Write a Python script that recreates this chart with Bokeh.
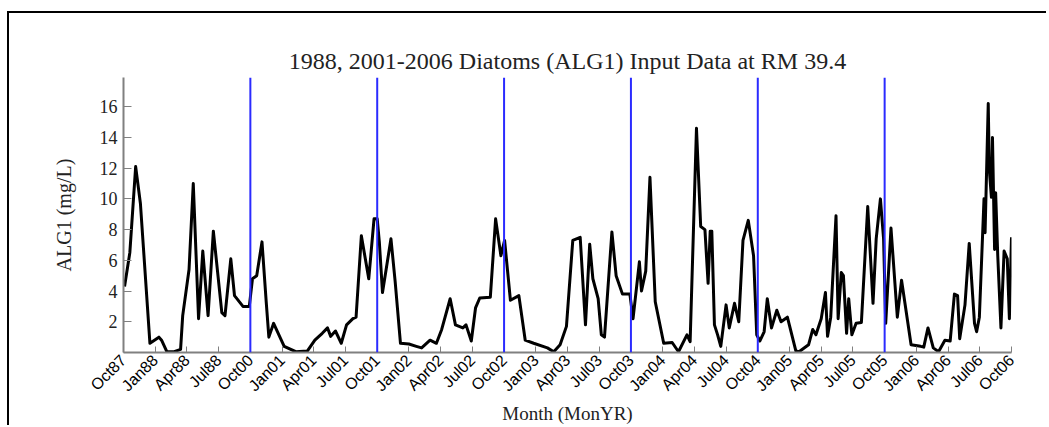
import numpy as np
from bokeh.plotting import figure
from bokeh.models import FixedTicker, Span, Range1d
from bokeh.embed import file_html
from bokeh.resources import INLINE

# Compressed time axis: months since Oct 1987, with the Oct88-Sep00 gap removed
tick_labels = ["Oct87", "Jan88", "Apr88", "Jul88", "Oct00", "Jan01", "Apr01", "Jul01",
               "Oct01", "Jan02", "Apr02", "Jul02", "Oct02", "Jan03", "Apr03", "Jul03",
               "Oct03", "Jan04", "Apr04", "Jul04", "Oct04", "Jan05", "Apr05", "Jul05",
               "Oct05", "Jan06", "Apr06", "Jul06", "Oct06"]
tick_months = [0, 3, 6, 9, 12, 15, 18, 21, 24, 27, 30, 33, 36, 39, 42, 45, 48,
               51, 54, 57, 60, 63, 66, 69, 72, 75, 78, 81, 84]
water_year_starts = [12, 24, 36, 48, 60, 72]
y_ticks = [2, 4, 6, 8, 10, 12, 14, 16]

month_pos = [0.1, 0.6, 1.15, 1.6, 2.5, 3.35, 3.6, 4.1, 4.8, 5.4, 5.6, 6.2, 6.6, 7.1, 7.5,
             8.0, 8.5, 9.3, 9.6, 10.15, 10.5, 11.3, 11.9,
             12.2, 12.6, 13.1, 13.5, 13.75, 14.2, 15.2, 16.3, 17.4, 18.1, 18.8, 19.3, 19.6,
             20.05, 20.6, 21.1, 21.7, 22.0, 22.5, 23.2, 23.7, 24.0, 24.2, 24.5, 25.3, 25.7,
             26.2, 27.0, 27.7, 28.2, 29.0, 29.6, 30.1, 30.9, 31.4, 32.1, 32.4, 32.9, 33.3,
             33.7, 34.7, 35.2, 35.7, 36.05, 36.6, 37.4, 38.0, 38.8, 40.1, 40.7, 41.3, 41.9,
             42.5, 43.2, 43.7, 44.1, 44.4, 44.9, 45.2, 45.5, 46.2, 46.6, 47.2, 47.9, 48.2,
             48.8, 49.0, 49.4, 49.8, 50.3, 51.1, 51.9, 52.5, 53.3, 53.6, 54.2, 54.6, 55.0,
             55.3, 55.5, 55.65, 55.9, 56.2, 56.5, 57.0, 57.3, 57.8, 58.2, 58.6, 59.1, 59.6,
             59.9, 60.2, 60.6, 60.9, 61.3, 61.8, 62.2, 62.8, 63.6, 63.9, 64.8, 65.2, 65.5,
             66.0, 66.4, 66.6, 66.9, 67.4, 67.6, 67.9, 68.1, 68.4, 68.6, 68.9, 69.3, 69.8,
             70.4, 70.9, 71.2, 71.6, 71.9, 72.1, 72.6, 73.2, 73.6, 74.5, 75.4, 75.7, 76.1,
             76.6, 77.1, 77.7, 78.2, 78.6, 78.9, 79.1, 79.6, 80.0, 80.5, 80.7, 80.96, 81.4,
             81.5, 81.8, 81.9, 82.1, 82.2, 82.4, 82.5, 82.7, 83.0, 83.3, 83.6, 83.8, 84.0]
alg1 = [4.3, 6.5, 12.1, 9.7, 0.6, 1.0, 0.8, 0.05, 0.05, 0.2, 2.4, 5.4, 11.0, 2.2, 6.6,
        2.4, 7.9, 2.6, 2.4, 6.1, 3.7, 3.0, 3.0,
        4.8, 5.0, 7.2, 3.3, 1.0, 1.9, 0.4, 0.05, 0.1, 0.8, 1.25, 1.6, 1.05,
        1.4, 0.6, 1.8, 2.2, 2.3, 7.6, 4.8, 8.7, 8.7, 7.2, 3.9, 7.4, 4.6,
        0.6, 0.55, 0.4, 0.3, 0.8, 0.6, 1.5, 3.5, 1.8, 1.6, 1.8, 0.75, 2.9,
        3.55, 3.6, 8.7, 6.3, 7.3, 3.4, 3.7, 0.8, 0.6, 0.3, 0.05, 0.5, 1.7,
        7.3, 7.5, 1.8, 7.05, 4.8, 3.5, 1.15, 1.0, 7.85, 5.0, 3.8, 3.8, 2.2,
        5.9, 4.0, 5.3, 11.4, 3.3, 0.6, 0.65, 0.05, 1.15, 0.7, 14.6, 8.2, 8.0,
        4.5, 7.9, 7.9, 1.8, 1.15, 0.4, 3.1, 1.6, 3.2, 2.0, 7.3, 8.6, 6.3,
        1.15, 0.75, 1.35, 3.5, 1.6, 2.75, 2.0, 2.3, 0.1, 0.05, 0.5, 1.5, 1.15,
        2.2, 3.9, 1.05, 2.3, 8.9, 2.2, 5.2, 5.0, 1.25, 3.5, 1.15, 1.9, 1.95,
        9.5, 3.2, 7.4, 10.0, 7.4, 1.9, 8.1, 2.3, 4.7, 0.5, 0.4, 0.35, 1.6,
        0.3, 0.05, 0.8, 0.75, 3.8, 3.7, 0.9, 3.1, 7.1, 1.9, 1.35, 2.3, 10.0,
        7.8, 16.2, 11.9, 10.1, 14.0, 6.7, 10.4, 6.3, 1.6, 6.6, 6.1, 2.2, 7.5]

W, H = 1039, 414
ML, MR, MT, MB = 114, 37, 64, 73

p = figure(width=W, height=H,
           x_range=Range1d(0, 84), y_range=Range1d(0, 17.9),
           output_backend="svg", toolbar_location=None,
           title="1988, 2001-2006 Diatoms (ALG1) Input Data at RM 39.4",
           min_border_left=ML, min_border_right=MR,
           min_border_top=MT, min_border_bottom=MB,
           styles={"border-left": "2px solid black", "border-top": "2px solid black",
                   "margin-top": "11px", "margin-left": "7px"})

p.title.align = "center"
p.title.text_font = "Liberation Serif"
p.title.text_font_size = "24px"
p.title.text_font_style = "normal"
p.title.text_color = "#222222"
p.title.standoff = 7

p.grid.visible = False
p.outline_line_color = None
p.background_fill_color = "white"
p.border_fill_color = "white"

xa = p.xaxis[0]
xa.ticker = FixedTicker(ticks=tick_months)
xa.major_label_overrides = {m: lab for m, lab in zip(tick_months, tick_labels)}
xa.major_label_orientation = np.pi / 4
xa.major_label_text_font = "Liberation Sans"
xa.major_label_text_font_size = "16px"
xa.major_label_text_color = "black"
xa.major_label_standoff = 5
xa.major_tick_in = 6
xa.major_tick_out = 0
xa.minor_tick_line_color = None
xa.axis_line_color = "#808080"
xa.major_tick_line_color = "#808080"
xa.axis_line_width = 2
xa.axis_label = "Month (MonYR)"
xa.axis_label_text_font = "Liberation Serif"
xa.axis_label_text_font_size = "19px"
xa.axis_label_text_font_style = "normal"
xa.axis_label_text_color = "#222222"
xa.axis_label_standoff = 0

ya = p.yaxis[0]
ya.ticker = FixedTicker(ticks=y_ticks)
ya.major_label_text_font = "Liberation Serif"
ya.major_label_text_font_size = "18px"
ya.major_label_text_color = "#222222"
ya.major_label_standoff = 6
ya.major_tick_in = 8
ya.major_tick_out = 0
ya.minor_tick_line_color = None
ya.axis_line_color = "#808080"
ya.major_tick_line_color = "#808080"
ya.axis_line_width = 2
ya.axis_label = "ALG1 (mg/L)"
ya.axis_label_text_font = "Liberation Serif"
ya.axis_label_text_font_size = "20px"
ya.axis_label_text_font_style = "normal"
ya.axis_label_text_color = "#222222"
ya.axis_label_standoff = 22

p.line(month_pos, alg1, line_width=3, line_color="black", line_join="round")

for m in water_year_starts:
    p.add_layout(Span(location=m, dimension="height", line_color="#2b2bff", line_width=2))

open("out.html", "w").write(file_html(p, INLINE))
